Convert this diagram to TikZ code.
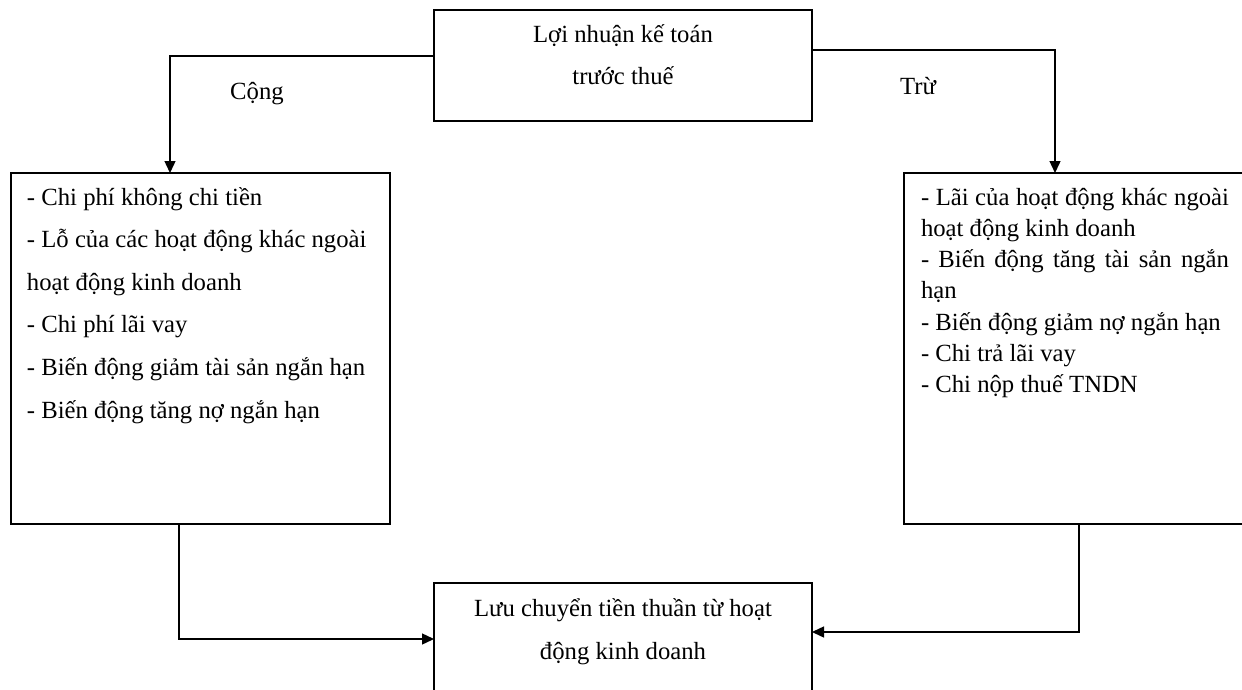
\documentclass[tikz,border=0pt]{standalone}
\usepackage{fontspec}
\setmainfont{Liberation Serif}
\usetikzlibrary{arrows.meta}
\begin{document}
\begin{tikzpicture}[x=1pt,y=-1pt,
  boxnode/.style={draw, line width=1.4pt, inner sep=0pt, outer sep=0pt, rectangle},
  txt/.style={inner sep=0pt, outer sep=0pt, font=\fontsize{24.7}{30}\selectfont},
  arr/.style={line width=1.4pt, -{Triangle[length=12pt,width=11pt]}}]
\useasboundingbox (0,0) rectangle (1242,690);
\clip (0,0) rectangle (1242,690);
% boxes
\node[boxnode, minimum width=378pt, minimum height=111pt] (top) at (623,65.5) {};
\node[boxnode, minimum width=379pt, minimum height=351pt] (left) at (200.5,348.5) {};
\node[boxnode, minimum width=346pt, minimum height=351pt] (right) at (1077,348.5) {};
\node[boxnode, minimum width=378pt, minimum height=117pt] (bot) at (623,641.5) {};
% top text
\node[txt, anchor=base] (t1) at (623,43) {Lợi nhuận kế toán};
\node[txt, anchor=base] (t2) at (623,85) {trước thuế};
% labels
\node[txt, anchor=base] (cong) at (257,100) {Cộng};
\node[txt, anchor=base] (tru) at (918,95) {Trừ};
% left text
\node[txt, anchor=base west] (l1) at (27,205) {- Chi phí không chi tiền};
\node[txt, anchor=base west] (l2) at (27,247.6) {- Lỗ của các hoạt động khác ngoài};
\node[txt, anchor=base west] (l3) at (27,290.2) {hoạt động kinh doanh};
\node[txt, anchor=base west] (l4) at (27,332.8) {- Chi phí lãi vay};
\node[txt, anchor=base west] (l5) at (27,375.4) {- Biến động giảm tài sản ngắn hạn};
\node[txt, anchor=base west] (l6) at (27,418) {- Biến động tăng nợ ngắn hạn};
% right text
\node[txt, anchor=base west] (r1) at (921,205) {\makebox[308pt][s]{- Lãi của hoạt động khác ngoài}};
\node[txt, anchor=base west] (r2) at (921,236.3) {hoạt động kinh doanh};
\node[txt, anchor=base west] (r3) at (921,267.6) {\makebox[308pt][s]{- Biến động tăng tài sản ngắn}};
\node[txt, anchor=base west] (r4) at (921,298.9) {hạn};
\node[txt, anchor=base west] (r5) at (921,330.2) {- Biến động giảm nợ ngắn hạn};
\node[txt, anchor=base west] (r6) at (921,361.5) {- Chi trả lãi vay};
\node[txt, anchor=base west] (r7) at (921,392.8) {- Chi nộp thuế TNDN};
% bottom text
\node[txt, anchor=base] (b1) at (623,616) {Lưu chuyển tiền thuần từ hoạt};
\node[txt, anchor=base] (b2) at (623,659) {động kinh doanh};
% connectors
\draw[arr] ([yshift=9.5pt]top.west) -| ([xshift=-30.5pt]left.north);
\draw[arr] ([yshift=15.5pt]top.east) -| ([xshift=-22pt]right.north);
\draw[arr] ([xshift=-21.5pt]left.south) |- ([yshift=2.5pt]bot.west);
\draw[arr] ([xshift=2pt]right.south) |- ([yshift=9.5pt]bot.east);
\end{tikzpicture}
\end{document}
